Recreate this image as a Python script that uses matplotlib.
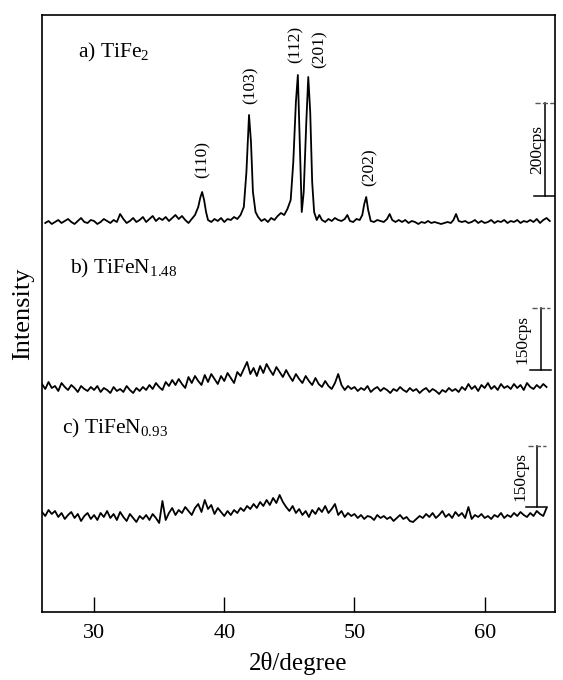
import numpy as np
import matplotlib.pyplot as plt

plt.rcParams['font.family'] = ['Liberation Serif', 'DejaVu Serif']
plt.rcParams['mathtext.fontset'] = 'custom'
plt.rcParams['mathtext.rm'] = 'Liberation Serif'

# a) TiFe2 - 2theta / intensity (arbitrary units, offset trace)
tth_a = [26.25, 26.5, 26.75, 27.0, 27.25, 27.5, 27.75, 28.0, 28.25, 28.5, 28.75, 29.0,
         29.25, 29.5, 29.75, 30.0, 30.25, 30.5, 30.75, 31.0, 31.25, 31.5, 31.75,
         32.0, 32.25, 32.5, 32.75, 33.0, 33.25, 33.5, 33.75, 34.0, 34.25, 34.5, 34.75,
         35.0, 35.25, 35.5, 35.75, 36.0, 36.25, 36.5, 36.75, 37.0, 37.25, 37.5, 37.75,
         38.0, 38.15, 38.3, 38.45, 38.6, 38.75, 39.0, 39.25, 39.5, 39.75, 40.0, 40.25,
         40.5, 40.75, 41.0, 41.25, 41.5, 41.7, 41.9, 42.05, 42.2, 42.4, 42.6, 42.85,
         43.1, 43.35, 43.6, 43.85, 44.1, 44.35, 44.6, 44.85, 45.1, 45.3, 45.5, 45.65,
         45.8, 45.95, 46.1, 46.3, 46.45, 46.6, 46.75, 46.9, 47.1, 47.3, 47.5, 47.75,
         48.0, 48.25, 48.5, 48.75, 49.0, 49.25, 49.45, 49.65, 49.9, 50.15, 50.4, 50.6,
         50.75, 50.9, 51.05, 51.25, 51.5, 51.75, 52.0, 52.25, 52.5, 52.7, 52.9, 53.15,
         53.4, 53.65, 53.9, 54.15, 54.4, 54.65, 54.9, 55.15, 55.4, 55.65, 55.9, 56.15,
         56.4, 56.65, 56.9, 57.15, 57.4, 57.6, 57.8, 58.0, 58.25, 58.5, 58.75, 59.0,
         59.25, 59.5, 59.75, 60.0, 60.25, 60.5, 60.75, 61.0, 61.25, 61.5, 61.75, 62.0,
         62.25, 62.5, 62.75, 63.0, 63.25, 63.5, 63.75, 64.0, 64.25, 64.5, 64.75, 65.0]
int_a = [389, 391, 388, 390, 392, 389, 391, 393, 390, 388, 391, 394,
         390, 389, 392, 391, 388, 390, 393, 391, 389, 392, 390,
         398, 393, 389, 391, 394, 390, 392, 395, 390, 393, 396, 391,
         394, 392, 395, 391, 394, 397, 393, 396, 392, 389, 393, 397,
         405, 414, 420, 412, 400, 392, 390, 393, 391, 394, 390, 393,
         392, 395, 393, 397, 405, 440, 497, 470, 420, 400, 395, 391,
         393, 390, 394, 392, 396, 399, 397, 403, 412, 450, 510, 537,
         470, 400, 420, 490, 535, 500, 430, 400, 392, 397, 392, 390,
         393, 391, 394, 392, 391, 393, 397, 391, 390, 393, 392, 397,
         408, 415, 402, 391, 390, 392, 391, 390, 393, 398, 392, 390,
         392, 390, 392, 389, 391, 390, 388, 390, 389, 391, 389, 390,
         389, 388, 389, 390, 389, 392, 398, 391, 390, 391, 389, 390,
         392, 389, 391, 389, 390, 392, 389, 391, 390, 392, 389, 391,
         390, 392, 389, 391, 390, 392, 390, 393, 389, 392, 394, 391]

# b) TiFeN1.48 and c) TiFeN0.93, 26.0 .. 64.75 step 0.25
tth_bc = np.arange(26.0, 65.0, 0.25)
int_b = [228, 223, 230, 224, 226, 221, 229, 225, 222, 227, 224, 220, 226, 223, 221, 225,
         222, 226, 220, 224, 222, 219, 225, 221, 223, 220, 226, 222, 219, 224, 221, 225,
         222, 227, 223, 229, 225, 222, 230, 226, 232, 227, 233, 228, 224, 235, 229, 236,
         231, 227, 237, 230, 238, 233, 228, 236, 231, 239, 234, 229, 240, 236, 243, 250,
         238, 244, 236, 246, 239, 248, 242, 237, 245, 240, 235, 242, 236, 231, 238, 233,
         229, 236, 231, 227, 234, 228, 225, 231, 226, 223, 229, 238, 227, 222, 226, 223,
         225, 221, 224, 222, 226, 220, 223, 225, 221, 224, 222, 219, 223, 221, 225, 222,
         220, 224, 221, 223, 219, 222, 224, 220, 223, 221, 218, 222, 220, 224, 221, 223,
         220, 225, 222, 228, 223, 226, 221, 227, 224, 229, 223, 226, 222, 228, 224, 226,
         223, 228, 224, 227, 222, 229, 225, 223, 227, 224, 228, 225]
int_c = [100, 96, 102, 98, 101, 95, 99, 93, 97, 100, 94, 98, 91, 96, 99, 93,
         97, 92, 99, 95, 101, 94, 98, 92, 100, 95, 91, 98, 94, 90, 96, 93,
         97, 92, 98, 94, 89, 111, 92, 99, 104, 97, 102, 99, 105, 101, 97, 104,
         108, 100, 112, 103, 107, 98, 104, 100, 96, 101, 97, 102, 99, 104, 101, 106,
         103, 108, 104, 110, 106, 112, 107, 114, 109, 117, 110, 105, 101, 106, 99, 103,
         97, 101, 95, 102, 98, 104, 100, 106, 99, 103, 108, 97, 101, 95, 99, 96,
         98, 94, 97, 93, 96, 95, 92, 97, 94, 96, 93, 95, 91, 94, 97, 93,
         95, 91, 90, 93, 96, 94, 98, 95, 99, 94, 97, 101, 95, 98, 94, 100,
         96, 99, 94, 105, 93, 97, 95, 98, 94, 96, 93, 97, 95, 99, 94, 97,
         95, 99, 96, 100, 97, 95, 99, 96, 101, 98, 96, 104]

peak_labels = ['(110)', '(103)', '(112)', '(201)', '(202)']
peak_x = [38.3, 42.05, 45.45, 47.3, 51.2]
peak_y = [452, 527, 568, 563, 445]

fig = plt.figure(figsize=(5.63, 6.8), dpi=100)
ax = fig.add_axes([42 / 563, 68 / 680, 513 / 563, 597 / 680])

ax.plot(tth_a, int_a, color='black', lw=1.3)
ax.plot(tth_bc, int_b, color='black', lw=1.3)
ax.plot(tth_bc, int_c, color='black', lw=1.3)

for lab, x, y in zip(peak_labels, peak_x, peak_y):
    ax.text(x, y, lab, rotation=90, ha='center', va='center', fontsize=12.5)

ax.text(28.75, 560, r'a) TiFe$_2$', fontsize=15.5, va='center')
ax.text(28.15, 344, r'b) TiFeN$_{1.48}$', fontsize=15.5, va='center')
ax.text(27.5, 184, r'c) TiFeN$_{0.93}$', fontsize=15.5, va='center')

# scale bars
def scale_bar(x, y0, length, text, tx):
    ax.plot([x, x], [y0, y0 + length], color='black', lw=1.1)
    ax.plot([x - 0.8, x + 0.8], [y0, y0], color='black', lw=1.1)
    ax.plot([x - 0.7, x + 0.7], [y0 + length, y0 + length], color='#555555', lw=1.0, ls='--')
    ax.text(tx, y0 + length / 2, text, rotation=90, ha='center', va='center', fontsize=12.5)

scale_bar(64.6, 416, 93, '200cps', 64.05)
scale_bar(64.3, 242, 62, '150cps', 62.9)
scale_bar(64.0, 105, 61, '150cps', 62.75)

ax.set_xlim(26.0, 65.4)
ax.set_ylim(0, 597)
ax.set_xticks([30, 40, 50, 60])
ax.set_yticks([])
ax.tick_params(axis='x', direction='in', length=11, width=1.0, labelsize=16, pad=9)
for spine in ax.spines.values():
    spine.set_linewidth(1.2)

ax.set_xlabel('2θ/degree', fontsize=18, labelpad=6)
ax.set_ylabel('Intensity', fontsize=19, labelpad=6)

fig.savefig('out.png', dpi=100)
